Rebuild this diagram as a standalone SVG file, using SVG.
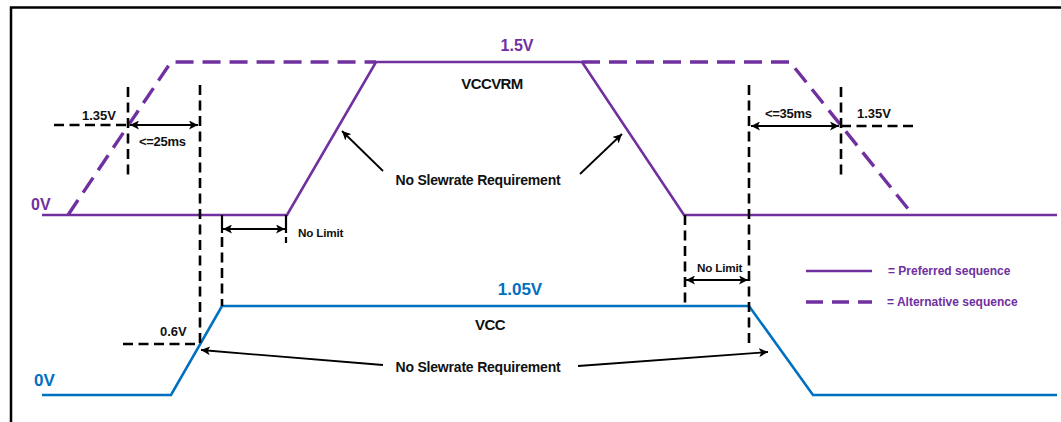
<svg xmlns="http://www.w3.org/2000/svg" width="1061" height="422" viewBox="0 0 1061 422">
<style>
text{font-family:"Liberation Sans",Arial,sans-serif;font-weight:bold}
.k{fill:#111}
.p{fill:#7030A0}
.b{fill:#0070C0}
.ps{stroke:#7030A0;stroke-width:2.6;fill:none}
.pd{stroke:#7030A0;stroke-width:3.4;fill:none;stroke-dasharray:18 9}
.bs{stroke:#0070C0;stroke-width:2.6;fill:none}
.kd{stroke:#000;stroke-width:2.6;fill:none;stroke-dasharray:10 5.5}
.ka{stroke:#000;stroke-width:1.8;fill:none}
.ks{stroke:#000;stroke-width:2.2;fill:none}
</style>
<defs>
<marker id="ah" viewBox="0 0 10 10" refX="10" refY="5" markerWidth="9" markerHeight="9" markerUnits="userSpaceOnUse" orient="auto-start-reverse">
<path d="M0,0 L10,5 L0,10 L2.5,5 Z" fill="#000"/>
</marker>
</defs>
<rect width="1061" height="422" fill="#fff"/>
<g id="frame"><path d="M11,422 V7.5 H1061" stroke="#000" stroke-width="2.5" fill="none"/></g>

<g id="vccvrm">
<polyline class="ps" points="42,215 287,215 376,62 582,62 684,215 1057,215"/>
<polyline class="pd" points="68,215 171,62 376,62"/>
<polyline class="pd" points="582,62 790,62 913,215"/>
</g>
<g id="vcc">
<polyline class="bs" points="42,395 171,395 222,306 749,306 813,395 1057,395"/>
</g>

<g id="connectors">
<line class="kd" x1="54" y1="125" x2="128" y2="125"/>
<line class="kd" x1="128" y1="87" x2="128" y2="178"/>
<line class="kd" x1="200" y1="85" x2="200" y2="343"/>
<line class="ka" x1="130" y1="125" x2="198" y2="125" marker-start="url(#ah)" marker-end="url(#ah)"/>
<line class="kd" x1="123" y1="344" x2="200" y2="344"/>
<line class="ks" x1="222" y1="215" x2="222" y2="233"/>
<line class="kd" x1="222" y1="237" x2="222" y2="306"/>
<line class="ks" x1="286" y1="215" x2="286" y2="233"/>
<line class="ks" x1="286" y1="237" x2="286" y2="243"/>
<line class="ka" x1="223" y1="229" x2="285" y2="229" marker-start="url(#ah)" marker-end="url(#ah)"/>
<line class="kd" x1="685" y1="215" x2="685" y2="306"/>
<line class="kd" x1="749" y1="85" x2="749" y2="345"/>
<line class="ka" x1="686" y1="280" x2="748" y2="280" marker-start="url(#ah)" marker-end="url(#ah)"/>
<line class="kd" x1="841" y1="87" x2="841" y2="178"/>
<line class="kd" x1="841" y1="126" x2="917" y2="126"/>
<line class="ka" x1="751" y1="126" x2="839" y2="126" marker-start="url(#ah)" marker-end="url(#ah)"/>
<line class="ka" x1="383" y1="171" x2="342" y2="131" marker-end="url(#ah)"/>
<line class="ka" x1="580" y1="174" x2="622" y2="134" marker-end="url(#ah)"/>
<line class="ka" x1="383" y1="365" x2="201" y2="350" marker-end="url(#ah)"/>
<line class="ka" x1="578" y1="366" x2="768" y2="352" marker-end="url(#ah)"/>
</g>

<g id="legend">
<line class="ps" x1="806" y1="271" x2="872" y2="271"/>
<line class="pd" x1="806" y1="302" x2="872" y2="302" style="stroke-dasharray:17 9"/>
<text class="p" x="888" y="275" font-size="12">= Preferred sequence</text>
<text class="p" x="887" y="306" font-size="12">= Alternative sequence</text>
</g>

<g id="labels">
<text class="p" x="517" y="51" font-size="16" text-anchor="middle">1.5V</text>
<text class="k" x="492" y="89" font-size="15" text-anchor="middle" letter-spacing="-0.6">VCCVRM</text>
<text class="k" x="478" y="185" font-size="14" text-anchor="middle" letter-spacing="-0.2">No Slewrate Requirement</text>
<text class="p" x="31" y="210" font-size="16">0V</text>
<text class="k" x="82" y="120" font-size="13">1.35V</text>
<text class="k" x="139" y="146" font-size="13" letter-spacing="-0.3">&lt;=25ms</text>
<text class="k" x="298" y="237" font-size="11.7" letter-spacing="-0.2">No Limit</text>
<text class="k" x="765" y="118" font-size="13" letter-spacing="-0.3">&lt;=35ms</text>
<text class="k" x="857" y="118" font-size="13">1.35V</text>
<text class="k" x="697" y="272" font-size="11.7" letter-spacing="-0.2">No Limit</text>
<text class="b" x="520" y="295" font-size="17" text-anchor="middle">1.05V</text>
<text class="k" x="490" y="330" font-size="15" text-anchor="middle" letter-spacing="-0.6">VCC</text>
<text class="k" x="160" y="336" font-size="13">0.6V</text>
<text class="k" x="478" y="372" font-size="14" text-anchor="middle" letter-spacing="-0.2">No Slewrate Requirement</text>
<text class="b" x="34" y="386" font-size="17">0V</text>
</g>
</svg>
